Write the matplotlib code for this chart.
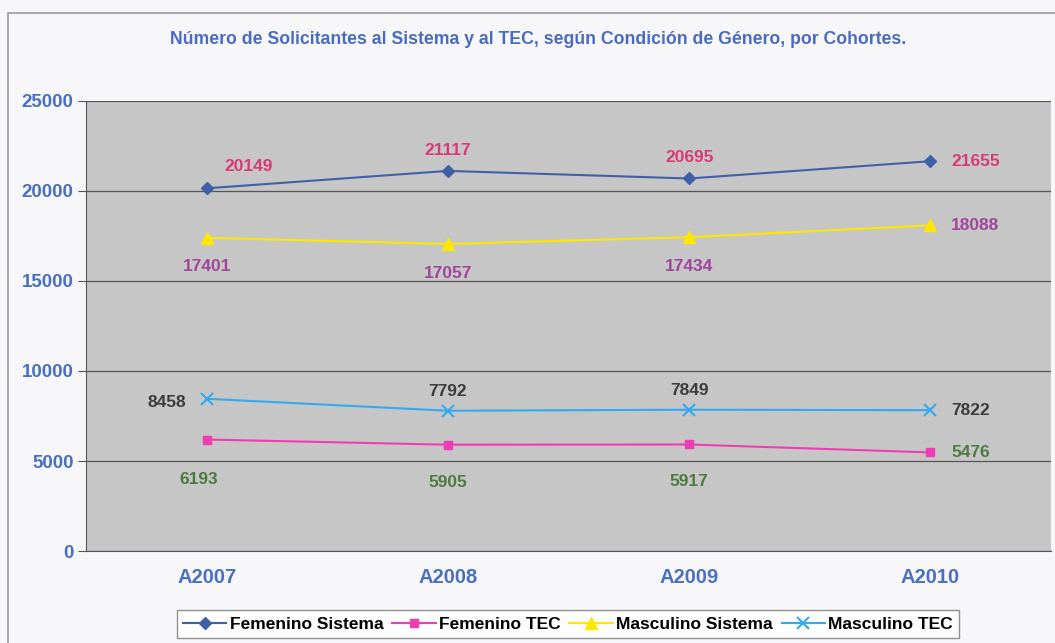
from matplotlib import pyplot as plt
from matplotlib.patches import Rectangle

cohortes = ["A2007", "A2008", "A2009", "A2010"]
fem_sistema = [20149, 21117, 20695, 21655]
fem_tec = [6193, 5905, 5917, 5476]
masc_sistema = [17401, 17057, 17434, 18088]
masc_tec = [8458, 7792, 7849, 7822]
y_ticks = [0, 5000, 10000, 15000, 20000, 25000]

fig = plt.figure(figsize=(10.55, 6.43), dpi=100)
fig.patch.set_facecolor("#f7f7f9")
fig.patches.append(Rectangle((8 / 1055, -0.01), 1.1, 1 - 13 / 643 + 0.01,
                             transform=fig.transFigure, fill=False,
                             edgecolor="#9a9a9a", linewidth=1.2))

ax = fig.add_axes([86 / 1055, 1 - 551 / 643, 965 / 1055, 450 / 643])
ax.set_facecolor("#c6c6c6")

x = list(range(len(cohortes)))
ax.plot(x, fem_sistema, color="#3f5fa8", marker="D", markersize=6,
        linewidth=1.5, label="Femenino Sistema")
ax.plot(x, fem_tec, color="#f03cb4", marker="s", markersize=6,
        linewidth=1.5, label="Femenino TEC")
ax.plot(x, masc_sistema, color="#ffe800", marker="^", markersize=8,
        linewidth=1.5, label="Masculino Sistema")
ax.plot(x, masc_tec, color="#33aaf0", marker="x", markersize=8,
        markeredgewidth=1.5, linewidth=1.5, label="Masculino TEC")

ax.set_xlim(-0.5, len(cohortes) - 0.5)
ax.set_ylim(0, 25000)
ax.set_yticks(y_ticks)
ax.set_xticks(x)
ax.set_xticklabels(cohortes)
ax.grid(axis="y", color="#555555", linewidth=0.9)
ax.set_axisbelow(True)
for s in ["top", "right"]:
    ax.spines[s].set_visible(False)
ax.spines["left"].set_color("#555555")
ax.spines["bottom"].set_color("#555555")
ax.tick_params(axis="y", colors="#555555", length=6, pad=3)
ax.tick_params(axis="x", colors="#555555", length=0, pad=12)
for lab in ax.get_yticklabels():
    lab.set_color("#4a70c0")
    lab.set_fontweight("bold")
    lab.set_fontsize(13.5)
    lab.set_family("Liberation Sans")
for lab in ax.get_xticklabels():
    lab.set_color("#4a70c0")
    lab.set_fontweight("bold")
    lab.set_fontsize(14.5)
    lab.set_family("Liberation Sans")

lbl = dict(fontsize=12.5, fontweight="bold", family="Liberation Sans",
           va="center")
# data labels
for i, v in enumerate(fem_sistema):
    if i == 0:
        ax.annotate(str(v), (i, v), xytext=(13, 16), textcoords="offset points",
                    color="#d83a78", ha="left", **lbl)
    elif i == 3:
        ax.annotate(str(v), (i, v), xytext=(15, 0), textcoords="offset points",
                    color="#d83a78", ha="left", **lbl)
    else:
        ax.annotate(str(v), (i, v), xytext=(0, 15), textcoords="offset points",
                    color="#d83a78", ha="center", **lbl)
for i, v in enumerate(masc_sistema):
    if i == 3:
        ax.annotate(str(v), (i, v), xytext=(15, 0), textcoords="offset points",
                    color="#a0449c", ha="left", **lbl)
    else:
        ax.annotate(str(v), (i, v), xytext=(0, -21), textcoords="offset points",
                    color="#a0449c", ha="center", **lbl)
for i, v in enumerate(masc_tec):
    if i == 0:
        ax.annotate(str(v), (i, v), xytext=(-15, -3), textcoords="offset points",
                    color="#3c3c3c", ha="right", **lbl)
    elif i == 3:
        ax.annotate(str(v), (i, v), xytext=(15, 0), textcoords="offset points",
                    color="#3c3c3c", ha="left", **lbl)
    else:
        ax.annotate(str(v), (i, v), xytext=(0, 14), textcoords="offset points",
                    color="#3c3c3c", ha="center", **lbl)
for i, v in enumerate(fem_tec):
    if i == 3:
        ax.annotate(str(v), (i, v), xytext=(15, 0), textcoords="offset points",
                    color="#4d7a3e", ha="left", **lbl)
    elif i == 0:
        ax.annotate(str(v), (i, v), xytext=(-6, -29), textcoords="offset points",
                    color="#4d7a3e", ha="center", **lbl)
    else:
        ax.annotate(str(v), (i, v), xytext=(0, -27), textcoords="offset points",
                    color="#4d7a3e", ha="center", **lbl)

fig.text(538 / 1055, 1 - 40 / 643,
         "Número de Solicitantes al Sistema y al TEC, según Condición de Género, por Cohortes.",
         ha="center", va="center", color="#4a6cc0", fontsize=12.7,
         fontweight="bold", family="Liberation Sans")

leg = fig.legend(loc="center", bbox_to_anchor=(568 / 1055, 1 - 624 / 643),
                 ncol=4, frameon=True, fancybox=False, edgecolor="#777777",
                 facecolor="white", prop={"family": "Liberation Sans",
                                          "size": 12.5, "weight": "bold"},
                 handlelength=2.5, columnspacing=0.5, handletextpad=0.2,
                 borderpad=0.35)

fig.savefig("out.png", dpi=100, facecolor=fig.get_facecolor())
